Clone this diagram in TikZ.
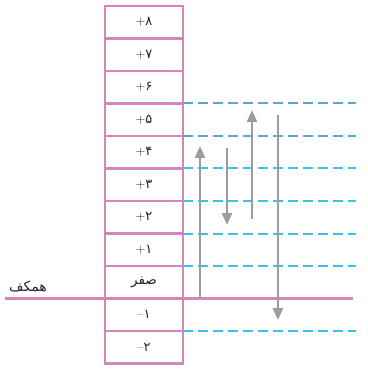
\documentclass[tikz,border=0pt]{standalone}
\usepackage{fontspec}
\newfontfamily\arabicfont[Script=Arabic]{DejaVu Sans}
\TeXXeTstate=1
\usetikzlibrary{arrows.meta}
\definecolor{pinkc}{RGB}{214,133,186}
\definecolor{cyanc}{RGB}{60,192,238}
\definecolor{tealc}{RGB}{85,170,200}
\definecolor{grayc}{RGB}{155,155,160}
\definecolor{txtc}{RGB}{35,35,35}
\tikzset{
  cell/.style={draw=pinkc, line width=2.2pt, minimum width=78pt, minimum height=32.5pt, inner sep=0pt, outer sep=0pt, font=\fontsize{13}{15}\selectfont, text=txtc},
  dashline/.style={cyanc, line width=2pt, dash pattern=on 10pt off 5pt},
  dashteal/.style={tealc, line width=2pt, dash pattern=on 10pt off 5pt},
  groundline/.style={pinkc, line width=2.2pt},
  movearrow/.style={grayc, line width=2.6pt, -{Triangle[width=10pt,length=12pt]}},
  lbl/.style={font=\arabicfont\fontsize{14}{16}\selectfont, text=txtc, inner sep=0pt}
}
\newcommand{\pd}[2]{#1{\arabicfont #2}}
\begin{document}
\begin{tikzpicture}[x=1pt,y=-1pt]
\useasboundingbox (0,0) rectangle (367,371);
% column cells
\node[cell] (c8) at (144,22.25) {\pd{+}{۸}};
\node[cell] (c7) at (144,54.75) {\pd{+}{۷}};
\node[cell] (c6) at (144,87.25) {\pd{+}{۶}};
\node[cell] (c5) at (144,119.75) {\pd{+}{۵}};
\node[cell] (c4) at (144,152.25) {\pd{+}{۴}};
\node[cell] (c3) at (144,184.75) {\pd{+}{۳}};
\node[cell] (c2) at (144,217.25) {\pd{+}{۲}};
\node[cell] (c1) at (144,249.75) {\pd{+}{۱}};
\node[cell] (c0) at (144,282.25) {\arabicfont\fontsize{13.5}{15}\selectfont\beginR صفر\endR};
\node[cell] (cm1) at (144,314.75) {\pd{--}{۱}};
\node[cell] (cm2) at (144,347.25) {\pd{--}{۲}};
% ground line
\coordinate (gL) at (5,298.5);
\coordinate (gR) at (353,298.5);
\draw[groundline] (gL) -- (gR);
\node[lbl] (hamkaf) at (28,286) {\beginR همکف\endR};
% dashed lines
\coordinate (dend) at (356,0);
\draw[dashteal] (c5.north east) -- (c5.north east -| dend);
\draw[dashteal] (c5.south east) -- (c5.south east -| dend);
\draw[dashline] (c4.south east) -- (c4.south east -| dend);
\draw[dashline] (c3.south east) -- (c3.south east -| dend);
\draw[dashline] (c2.south east) -- (c2.south east -| dend);
\draw[dashline] (c1.south east) -- (c1.south east -| dend);
\draw[dashline] (cm1.south east) -- (cm1.south east -| dend);
% arrows
\coordinate (a1s) at (200,298.5);
\coordinate (a1e) at (200,146);
\coordinate (a2s) at (227,148);
\coordinate (a2e) at (227,225);
\coordinate (a3s) at (252,219);
\coordinate (a3e) at (252,110);
\coordinate (a4s) at (278,115);
\coordinate (a4e) at (278,320);
\draw[movearrow] (a1s) -- (a1e);
\draw[movearrow] (a2s) -- (a2e);
\draw[movearrow] (a3s) -- (a3e);
\draw[movearrow] (a4s) -- (a4e);
\end{tikzpicture}
\end{document}
